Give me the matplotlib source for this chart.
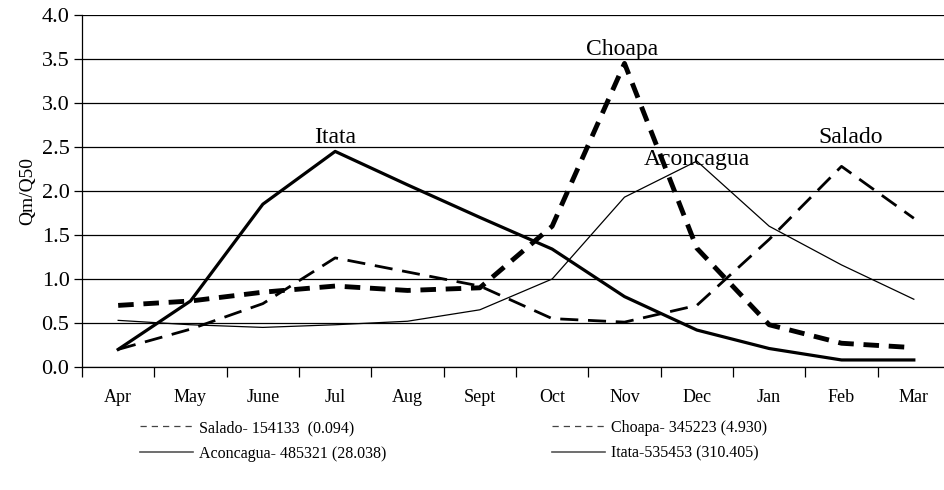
import numpy as np
import matplotlib.pyplot as plt
from matplotlib.lines import Line2D

plt.rcParams['font.family'] = ['Liberation Serif', 'DejaVu Serif']

months = ["Apr", "May", "June", "Jul", "Aug", "Sept", "Oct", "Nov", "Dec", "Jan", "Feb", "Mar"]

# Qm/Q50
salado = [0.20, 0.43, 0.72, 1.24, 1.08, 0.92, 0.55, 0.51, 0.70, 1.45, 2.28, 1.69]
choapa = [0.70, 0.75, 0.85, 0.92, 0.87, 0.90, 1.60, 3.45, 1.35, 0.48, 0.27, 0.22]
aconcagua = [0.53, 0.48, 0.45, 0.48, 0.52, 0.65, 1.00, 1.93, 2.34, 1.60, 1.16, 0.77]
itata = [0.20, 0.75, 1.85, 2.45, 2.07, 1.70, 1.34, 0.80, 0.42, 0.21, 0.08, 0.08]

legend_labels = ["Salado- 154133  (0.094)", "Choapa- 345223 (4.930)",
                 "Aconcagua- 485321 (28.038)", "Itata-535453 (310.405)"]

fig = plt.figure(figsize=(9.44, 4.90), dpi=100)
# plot area runs a little past the right edge of the picture, as in the original
ax = fig.add_axes([82 / 944, 1 - 367 / 490, (950 - 82) / 944, (367 - 15) / 490])

x = np.arange(len(months))
ax.plot(x, salado, color="k", lw=2.0, dashes=(6.5, 3.5))
ax.plot(x, choapa, color="k", lw=3.5, dashes=(3.2, 2.0))
ax.plot(x, aconcagua, color="k", lw=0.9)
ax.plot(x, itata, color="k", lw=2.3)

ax.set_xlim(-0.5, 11.5)
ax.set_ylim(0, 4.0)
ax.set_yticks(np.arange(0, 4.01, 0.5))
ax.set_yticklabels([f"{v:.1f}" for v in np.arange(0, 4.01, 0.5)], fontsize=16)
ax.yaxis.grid(True, color="k", lw=0.9)
ax.set_axisbelow(True)

ax.set_xticks(x)
ax.set_xticklabels(months, fontsize=13)
ax.set_xticks(np.arange(-0.5, 11.6, 1), minor=True)
ax.tick_params(axis="x", which="major", length=0, pad=16)
ax.tick_params(axis="x", which="minor", length=7, width=0.9, direction="out")
ax.tick_params(axis="y", length=6, width=0.9, direction="out", pad=3)

for s in ["top", "right"]:
    ax.spines[s].set_visible(False)
for s in ["left", "bottom"]:
    ax.spines[s].set_linewidth(0.9)

ax.set_ylabel("Qm/Q50", fontsize=14, labelpad=4)

# river names next to their peaks
ax.text(3, 2.61, "Itata", fontsize=17, ha="center", va="center")
ax.text(6.96, 3.61, "Choapa", fontsize=17, ha="center", va="center")
ax.text(8.0, 2.36, "Aconcagua", fontsize=17, ha="center", va="center")
ax.text(10.12, 2.61, "Salado", fontsize=17, ha="center", va="center")

# legend below the chart, two columns placed by hand
h_dash = Line2D([], [], color="#444", lw=0.9, dashes=(5, 4))
h_solid = Line2D([], [], color="#555", lw=1.2)
leg_kw = dict(loc="upper left", frameon=False, fontsize=11.5, handlelength=3.3,
              handletextpad=0.4, labelspacing=0.6, borderpad=0, borderaxespad=0)
fig.legend([h_dash, h_solid], [legend_labels[0], legend_labels[2]],
           bbox_to_anchor=(140 / 944, 1 - 420 / 490), **leg_kw)
fig.legend([h_dash, h_solid], [legend_labels[1], legend_labels[3]],
           bbox_to_anchor=(552 / 944, 1 - 420 / 490), **leg_kw)

fig.savefig("out.png", dpi=100)
